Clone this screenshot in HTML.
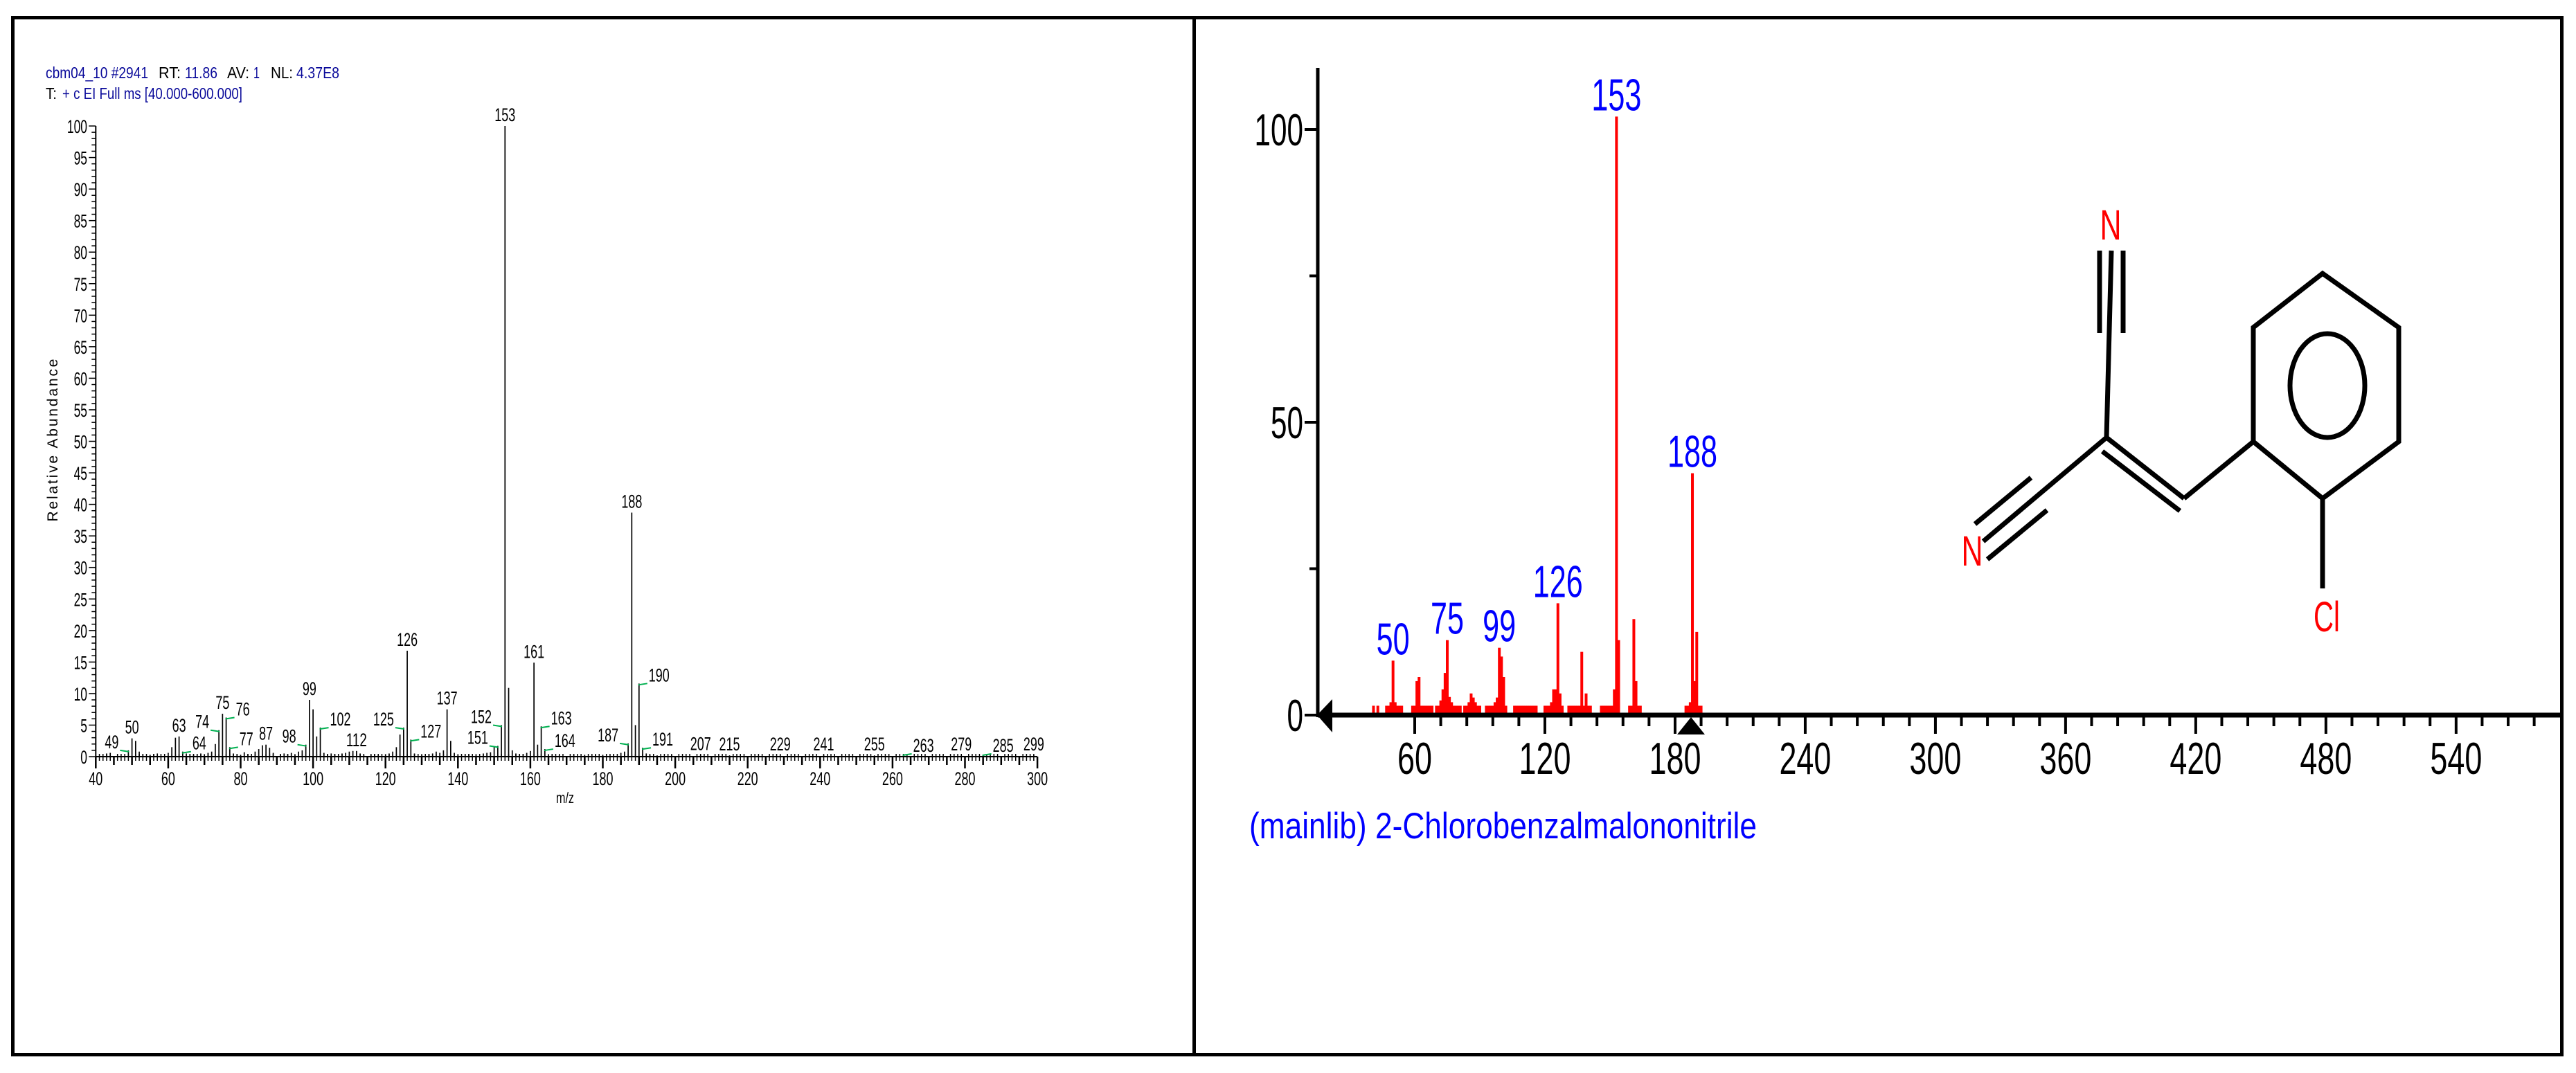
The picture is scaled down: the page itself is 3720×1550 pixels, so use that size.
<!DOCTYPE html>
<html><head><meta charset="utf-8"><style>
html,body{margin:0;padding:0;background:#fff;}
svg{display:block;font-family:"Liberation Sans",Arial,sans-serif;}
</style></head><body>
<svg id="s" width="3720" height="1550" viewBox="0 0 3720 1550" xmlns="http://www.w3.org/2000/svg">
<rect x="0" y="0" width="3720" height="1550" fill="#fff"/>
<rect x="18.5" y="25.5" width="3681" height="1498" fill="none" stroke="#000" stroke-width="5"/>
<line x1="1724.5" y1="25" x2="1724.5" y2="1524" stroke="#000" stroke-width="5"/>

<g font-size="23">
<text x="66" y="113" textLength="148" lengthAdjust="spacingAndGlyphs" fill="#0a0a9a">cbm04_10 #2941</text>
<text x="229" y="113" textLength="32" lengthAdjust="spacingAndGlyphs" fill="#000">RT:</text>
<text x="267" y="113" textLength="47" lengthAdjust="spacingAndGlyphs" fill="#0a0a9a">11.86</text>
<text x="328" y="113" textLength="32" lengthAdjust="spacingAndGlyphs" fill="#000">AV:</text>
<text x="366" y="113" textLength="9" lengthAdjust="spacingAndGlyphs" fill="#0a0a9a">1</text>
<text x="391" y="113" textLength="32" lengthAdjust="spacingAndGlyphs" fill="#000">NL:</text>
<text x="428" y="113" textLength="62" lengthAdjust="spacingAndGlyphs" fill="#0a0a9a">4.37E8</text>
<text x="66" y="143" textLength="16" lengthAdjust="spacingAndGlyphs" fill="#000">T:</text>
<text x="90" y="143" textLength="260" lengthAdjust="spacingAndGlyphs" fill="#0a0a9a">+ c EI Full ms [40.000-600.000]</text>
</g>
<text transform="translate(83,636) rotate(-90)" text-anchor="middle" font-size="21" textLength="235" lengthAdjust="spacing">Relative Abundance</text>
<text x="816" y="1160" text-anchor="middle" font-size="22" textLength="26" lengthAdjust="spacingAndGlyphs">m/z</text>

<g id="L"></g>
<g id="R"></g>

<g stroke="#000" stroke-width="7" fill="none" stroke-linecap="butt">
<line x1="3032" y1="362" x2="3032" y2="481"/>
<line x1="3066" y1="362" x2="3066" y2="481"/>
<line x1="3049" y1="362" x2="3042" y2="632"/>
<line x1="3042" y1="632" x2="3154" y2="720"/>
<line x1="3036" y1="652" x2="3148" y2="738"/>
<line x1="3154" y1="720" x2="3254" y2="638"/>
<polygon points="3254,638 3254,473 3354,395 3464,473 3464,638 3354,720"/>
<ellipse cx="3361" cy="557" rx="54" ry="75"/>
<line x1="3354" y1="720" x2="3354" y2="850"/>
<line x1="3042" y1="632" x2="2864" y2="782"/>
<line x1="2933" y1="690" x2="2852" y2="757"/>
<line x1="2956" y1="737" x2="2870" y2="808"/>
</g>
<text x="3048" y="346" text-anchor="middle" font-size="61" fill="#f00" textLength="31" lengthAdjust="spacingAndGlyphs">N</text>
<text x="2848" y="817" text-anchor="middle" font-size="61" fill="#f00" textLength="31" lengthAdjust="spacingAndGlyphs">N</text>
<text x="3360" y="912" text-anchor="middle" font-size="61" fill="#f00" textLength="38" lengthAdjust="spacingAndGlyphs">Cl</text>
<text x="1804" y="1211" font-size="53" fill="#0000ff" textLength="733" lengthAdjust="spacingAndGlyphs">(mainlib) 2-Chlorobenzalmalononitrile</text>
</svg>
<script>
// ---- left (measured) spectrum data ----
const mzL=[43,44,49,50,51,52,53,55,56,57,60,61,62,63,64,65,66,67,68,69,70,71,72,73,74,75,76,77,78,79,80,81,82,84,85,86,87,88,89,91,92,93,94,95,96,97,98,99,100,101,102,103,104,105,106,108,109,110,111,112,113,114,116,117,118,120,121,122,123,124,125,126,127,128,130,132,133,134,135,136,137,138,139,140,142,143,145,147,148,149,150,151,152,153,154,155,156,157,158,159,160,161,162,163,164,165,166,168,172,175,178,180,183,185,186,187,188,189,190,191,192,193,195,199,207,215,229,241,255,263,279,285,299];
const intL=[0.5,0.6,1.0,2.9,2.5,0.8,0.4,0.3,0.4,0.5,0.6,1.5,3.0,3.2,0.8,0.5,0.4,0.3,0.4,0.5,0.4,0.6,0.8,2.0,4.2,6.8,6.2,1.5,0.5,0.4,0.3,0.7,0.4,0.8,1.2,1.8,1.9,1.4,0.6,0.4,0.5,0.4,0.6,0.4,0.8,1.0,1.9,9.0,7.5,3.2,4.6,0.6,0.4,0.5,0.4,0.5,0.6,0.8,0.9,0.9,0.5,0.3,0.3,0.4,0.3,0.4,0.5,0.8,1.5,3.5,4.6,16.8,2.7,0.5,0.4,0.4,0.5,0.8,0.6,1.0,7.5,2.5,0.6,0.4,0.4,0.4,0.4,0.5,0.6,0.7,1.5,1.7,5.0,100,10.9,1.0,0.5,0.4,0.4,0.6,0.9,14.9,1.9,4.8,1.2,0.4,0.3,0.3,0.3,0.3,0.3,0.3,0.4,0.6,0.8,2.1,38.7,5.0,11.6,1.4,0.5,0.3,0.2,0.2,0.3,0.2,0.2,0.2,0.2,0.2,0.2,0.2,0.2];
const lblL=[49,50,63,64,74,75,76,77,87,98,99,102,112,125,126,127,137,151,152,153,161,163,164,187,188,190,191,207,215,229,241,255,263,279,285,299];
const lblSideL=[-1,0,0,1,-1,0,1,1,0,-1,0,1,0,-1,0,1,0,-1,-1,0,0,1,1,-1,0,1,1,0,0,0,0,0,1,0,1,0];
const xTicksL=[40,60,80,100,120,140,160,180,200,220,240,260,280,300];
const yTicksL=[0,5,10,15,20,25,30,35,40,45,50,55,60,65,70,75,80,85,90,95,100];
// ---- right (library) spectrum data ----
const mzR=[41,43,47,48,49,50,51,52,53,54,59,60,61,62,63,64,65,66,67,68,70,71,72,73,74,75,76,77,78,79,80,81,83,84,85,86,87,88,89,90,93,94,95,96,97,98,99,100,101,102,106,107,108,109,110,111,112,113,114,115,116,120,121,122,123,124,125,126,127,128,131,132,133,134,135,136,137,138,139,140,141,146,147,148,149,150,151,152,153,154,159,160,161,162,163,164,185,186,187,188,189,190,191,192];
const intR=[1.6,1.6,1.6,1.6,2.2,9.3,2.2,1.6,1.6,1.6,1.6,1.6,5.8,6.5,1.6,1.6,1.6,1.6,1.6,1.6,1.6,1.6,2.5,4.4,7.2,12.8,3.1,2.2,1.6,1.6,1.6,1.6,1.6,1.6,2.2,3.7,3.0,2.2,1.6,1.6,1.6,1.6,1.6,1.6,2.2,3.0,11.5,10.0,6.5,1.6,1.6,1.6,1.6,1.6,1.6,1.6,1.6,1.6,1.6,1.6,1.6,1.6,1.6,1.6,2.2,4.4,4.4,19.1,3.7,1.6,1.6,1.6,1.6,1.6,1.6,1.6,10.8,1.6,3.7,1.6,1.6,1.6,1.6,1.6,1.6,1.6,1.6,4.4,102.2,12.8,1.6,1.6,16.4,5.8,1.6,1.6,1.6,1.6,2.2,41.3,5.8,14.2,1.6,1.6];
const lblR=[50,75,99,126,153,188];
const xTicksR=[60,120,180,240,300,360,420,480,540];
const yTicksR=[0,50,100];
const yMinorR=[25,75];

const NS='http://www.w3.org/2000/svg';
function mk(parent,tag,attrs,txt){const e=document.createElementNS(NS,tag);for(const k in attrs)e.setAttribute(k,attrs[k]);if(txt!==undefined)e.textContent=txt;parent.appendChild(e);return e;}

// ===== left chart =====
const L=document.getElementById('L');
const xL=v=>138.3+(v-40)*5.23;
const yL=v=>1093-v*9.11;
mk(L,'line',{x1:xL(40),y1:yL(0),x2:xL(300),y2:yL(0),stroke:'#000','stroke-width':2});
mk(L,'line',{x1:xL(40),y1:yL(0),x2:xL(40),y2:yL(100),stroke:'#000','stroke-width':2});
for(let v=40;v<=300;v++){
  const len=v%20===0?17:(v%5===0?12:6);
  const t=mk(L,'line',{x1:xL(v),y1:yL(0)-(v%5===0?0:4),x2:xL(v),y2:yL(0)+len,stroke:'#000','stroke-width':v%5===0?2.5:1.5});
  
  
}
for(let v=0;v<=100;v++){
  const len=v%5===0?10:6;
  mk(L,'line',{x1:xL(40)-len,y1:yL(v),x2:xL(40),y2:yL(v),stroke:'#000','stroke-width':1.5});
}
xTicksL.forEach(v=>{
  const s=String(v);
  const t=mk(L,'text',{x:xL(v),y:1134,'text-anchor':'middle','font-size':27,textLength:s.length*10,lengthAdjust:'spacingAndGlyphs'},s);
  
  
});
yTicksL.forEach(v=>{
  const s=String(v);
  const t=mk(L,'text',{x:126,y:yL(v)+10,'text-anchor':'end','font-size':27,textLength:s.length*9.7,lengthAdjust:'spacingAndGlyphs'},s);
  
  
});
mzL.forEach((m,i)=>{
  const b=mk(L,'line',{x1:xL(m),y1:yL(0),x2:xL(m),y2:yL(intL[i]),stroke:'#000','stroke-width':1.7});
  
  
});
lblL.forEach((m,i)=>{
  const k=mzL.indexOf(m);const top=yL(k>=0?intL[k]:0);const side=lblSideL[i];
  const s=String(m);const w=s.length*10;
  let lx=xL(m),base;
  if(side===0){base=Math.min(top-7,1086);}
  else{lx=xL(m)+side*(w/2+14);base=Math.min(top-3,1086);
    const g=mk(L,'line',{x1:lx-side*(w/2+2),y1:base+3,x2:xL(m)-side*1,y2:Math.min(top+2,1091),stroke:'#00b050','stroke-width':2});
    
    
  }
  const t=mk(L,'text',{x:lx,y:base,'text-anchor':'middle','font-size':27,textLength:w,lengthAdjust:'spacingAndGlyphs'},s);
  
  
});

// ===== right chart =====
const R=document.getElementById('R');
const xR=v=>2043+(v-60)*3.133;
const yR=v=>1033-v*8.46;
mzR.forEach((m,i)=>{
  const b=mk(R,'rect',{x:xR(m)-2,y:yR(intR[i]),width:4,height:yR(0)-yR(intR[i]),fill:'#ff0000'});
  
  
});
mk(R,'line',{x1:1903,y1:98,x2:1903,y2:1036,stroke:'#000','stroke-width':5});
mk(R,'line',{x1:1903,y1:1033,x2:3698,y2:1033,stroke:'#000','stroke-width':7});
mk(R,'polygon',{points:'1902,1033 1924,1010 1924,1058',fill:'#000'});
mk(R,'polygon',{points:'2442,1036 2422,1061 2462,1061',fill:'#000'});
yTicksR.forEach(v=>{
  mk(R,'line',{x1:1884,y1:yR(v),x2:1903,y2:yR(v),stroke:'#000','stroke-width':4});
  const s=String(v);
  const t=mk(R,'text',{x:1882,y:yR(v)+23,'text-anchor':'end','font-size':65,textLength:s.length*23.5,lengthAdjust:'spacingAndGlyphs'},s);
  
  
});
yMinorR.forEach(v=>{mk(R,'line',{x1:1891,y1:yR(v),x2:1903,y2:yR(v),stroke:'#000','stroke-width':4});});
for(let v=60;xR(v)<3697;v+=12){
  const major=v%60===0;
  mk(R,'line',{x1:xR(v),y1:1033,x2:xR(v),y2:major?1060:1049,stroke:'#000','stroke-width':4});
}
xTicksR.forEach(v=>{
  const s=String(v);
  const t=mk(R,'text',{x:xR(v),y:1118,'text-anchor':'middle','font-size':65,textLength:s.length*25,lengthAdjust:'spacingAndGlyphs'},s);
  
  
});
lblR.forEach(m=>{
  const k=mzR.indexOf(m);const top=yR(intR[k]);const s=String(m);
  const t=mk(R,'text',{x:xR(m),y:top-9,'text-anchor':'middle','font-size':65,fill:'#0000ff',textLength:s.length*24,lengthAdjust:'spacingAndGlyphs'},s);
  
  
});
</script>
</body></html>
